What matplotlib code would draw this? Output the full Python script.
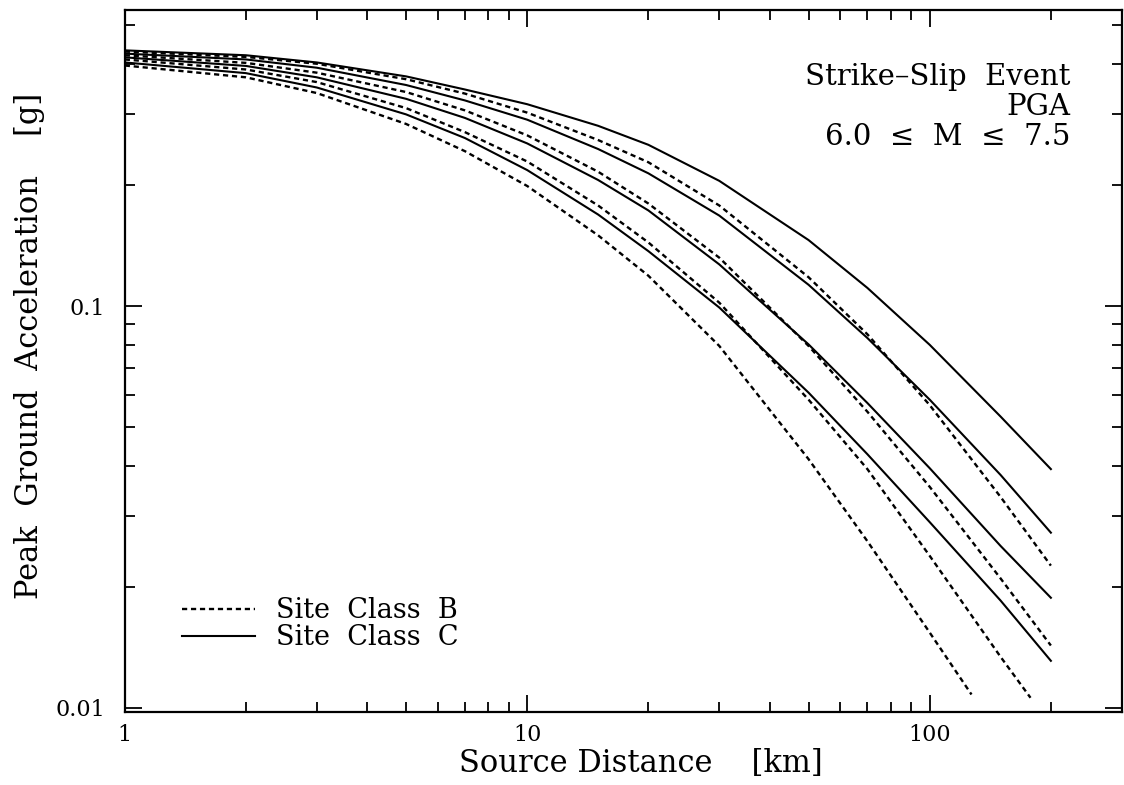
import numpy as np
import matplotlib
matplotlib.use("Agg")
import matplotlib.pyplot as plt

# distances [km]
dist = [1, 2, 3, 5, 7, 10, 15, 20, 30, 50, 70, 100, 150, 200]
dist_b65 = [1, 2, 3, 5, 7, 10, 15, 20, 30, 50, 70, 100, 150, 178]
dist_b60 = [1, 2, 3, 5, 7, 10, 15, 20, 30, 50, 70, 100, 127]

# site class C (solid), M = 7.5, 7.0, 6.5, 6.0
pga_c75 = [0.433, 0.421, 0.404, 0.373, 0.346, 0.318, 0.281, 0.252, 0.205, 0.146, 0.111, 0.0801, 0.0531, 0.0393]
pga_c70 = [0.425, 0.411, 0.392, 0.355, 0.325, 0.291, 0.246, 0.214, 0.168, 0.113, 0.0833, 0.0585, 0.0380, 0.0273]
pga_c65 = [0.416, 0.396, 0.371, 0.328, 0.294, 0.254, 0.206, 0.173, 0.127, 0.0803, 0.0574, 0.0395, 0.0253, 0.0188]
pga_c60 = [0.404, 0.380, 0.350, 0.300, 0.262, 0.218, 0.169, 0.137, 0.0992, 0.0609, 0.0428, 0.0290, 0.0185, 0.0131]

# site class B (dashed), M = 7.5, 7.0, 6.5, 6.0
pga_b75 = [0.430, 0.417, 0.401, 0.367, 0.338, 0.303, 0.259, 0.228, 0.178, 0.118, 0.0851, 0.0567, 0.0335, 0.0226]
pga_b70 = [0.421, 0.403, 0.381, 0.341, 0.307, 0.266, 0.216, 0.180, 0.132, 0.0796, 0.0546, 0.0355, 0.0210, 0.0143]
pga_b65 = [0.411, 0.388, 0.361, 0.311, 0.271, 0.229, 0.178, 0.144, 0.102, 0.0585, 0.0393, 0.0239, 0.0134, 0.0106]
pga_b60 = [0.397, 0.371, 0.339, 0.284, 0.243, 0.199, 0.150, 0.119, 0.0796, 0.0416, 0.0260, 0.0154, 0.0108]

plt.rcParams["font.family"] = "DejaVu Serif"

fig = plt.figure(figsize=(11.24, 7.85), dpi=100)
ax = fig.add_axes([0.111, 0.093, 0.887, 0.894])

dash = (0, (2.2, 1.6))
ax.plot(dist, pga_b75, color="black", lw=1.7, ls=dash, label="Site  Class  B")
ax.plot(dist, pga_c75, color="black", lw=1.5, label="Site  Class  C")
ax.plot(dist, pga_c70, color="black", lw=1.5)
ax.plot(dist, pga_c65, color="black", lw=1.5)
ax.plot(dist, pga_c60, color="black", lw=1.5)
ax.plot(dist, pga_b70, color="black", lw=1.7, ls=dash)
ax.plot(dist_b65, pga_b65, color="black", lw=1.7, ls=dash)
ax.plot(dist_b60, pga_b60, color="black", lw=1.7, ls=dash)

ax.set_xscale("log")
ax.set_yscale("log")
ax.set_xlim(1, 300)
ax.set_ylim(0.00977, 0.545)

ax.set_xticks([1, 10, 100])
ax.set_xticklabels(["1", "10", "100"])
ax.set_yticks([0.01, 0.1])
ax.set_yticklabels(["0.01", "0.1"])
ax.tick_params(which="both", direction="in", top=True, right=True, labelsize=16, width=1.3)
ax.tick_params(which="major", length=12)
ax.tick_params(which="minor", length=7)
ax.tick_params(axis="y", which="major", pad=14)
ax.tick_params(axis="x", which="major", pad=9)
for s in ax.spines.values():
    s.set_linewidth(1.6)

ax.set_xlabel("Source Distance    [km]", fontsize=22)
ax.set_ylabel("Peak  Ground  Acceleration    [g]", fontsize=22)
ax.xaxis.set_label_coords(0.518, -0.052)
ax.yaxis.set_label_coords(-0.080, 0.521)

ax.text(0.948, 0.905, "Strike\u2013Slip  Event", transform=ax.transAxes,
        ha="right", va="center", fontsize=21)
ax.text(0.948, 0.862, "PGA", transform=ax.transAxes,
        ha="right", va="center", fontsize=21)
ax.text(0.948, 0.819, "6.0  \u2264  M  \u2264  7.5", transform=ax.transAxes,
        ha="right", va="center", fontsize=21)

ax.legend(loc="center left", bbox_to_anchor=(0.057, 0.125), frameon=False, fontsize=19.5,
          handlelength=2.7, handletextpad=0.8, labelspacing=0.0, borderpad=0,
          borderaxespad=0)

fig.savefig("out.png", dpi=100)
